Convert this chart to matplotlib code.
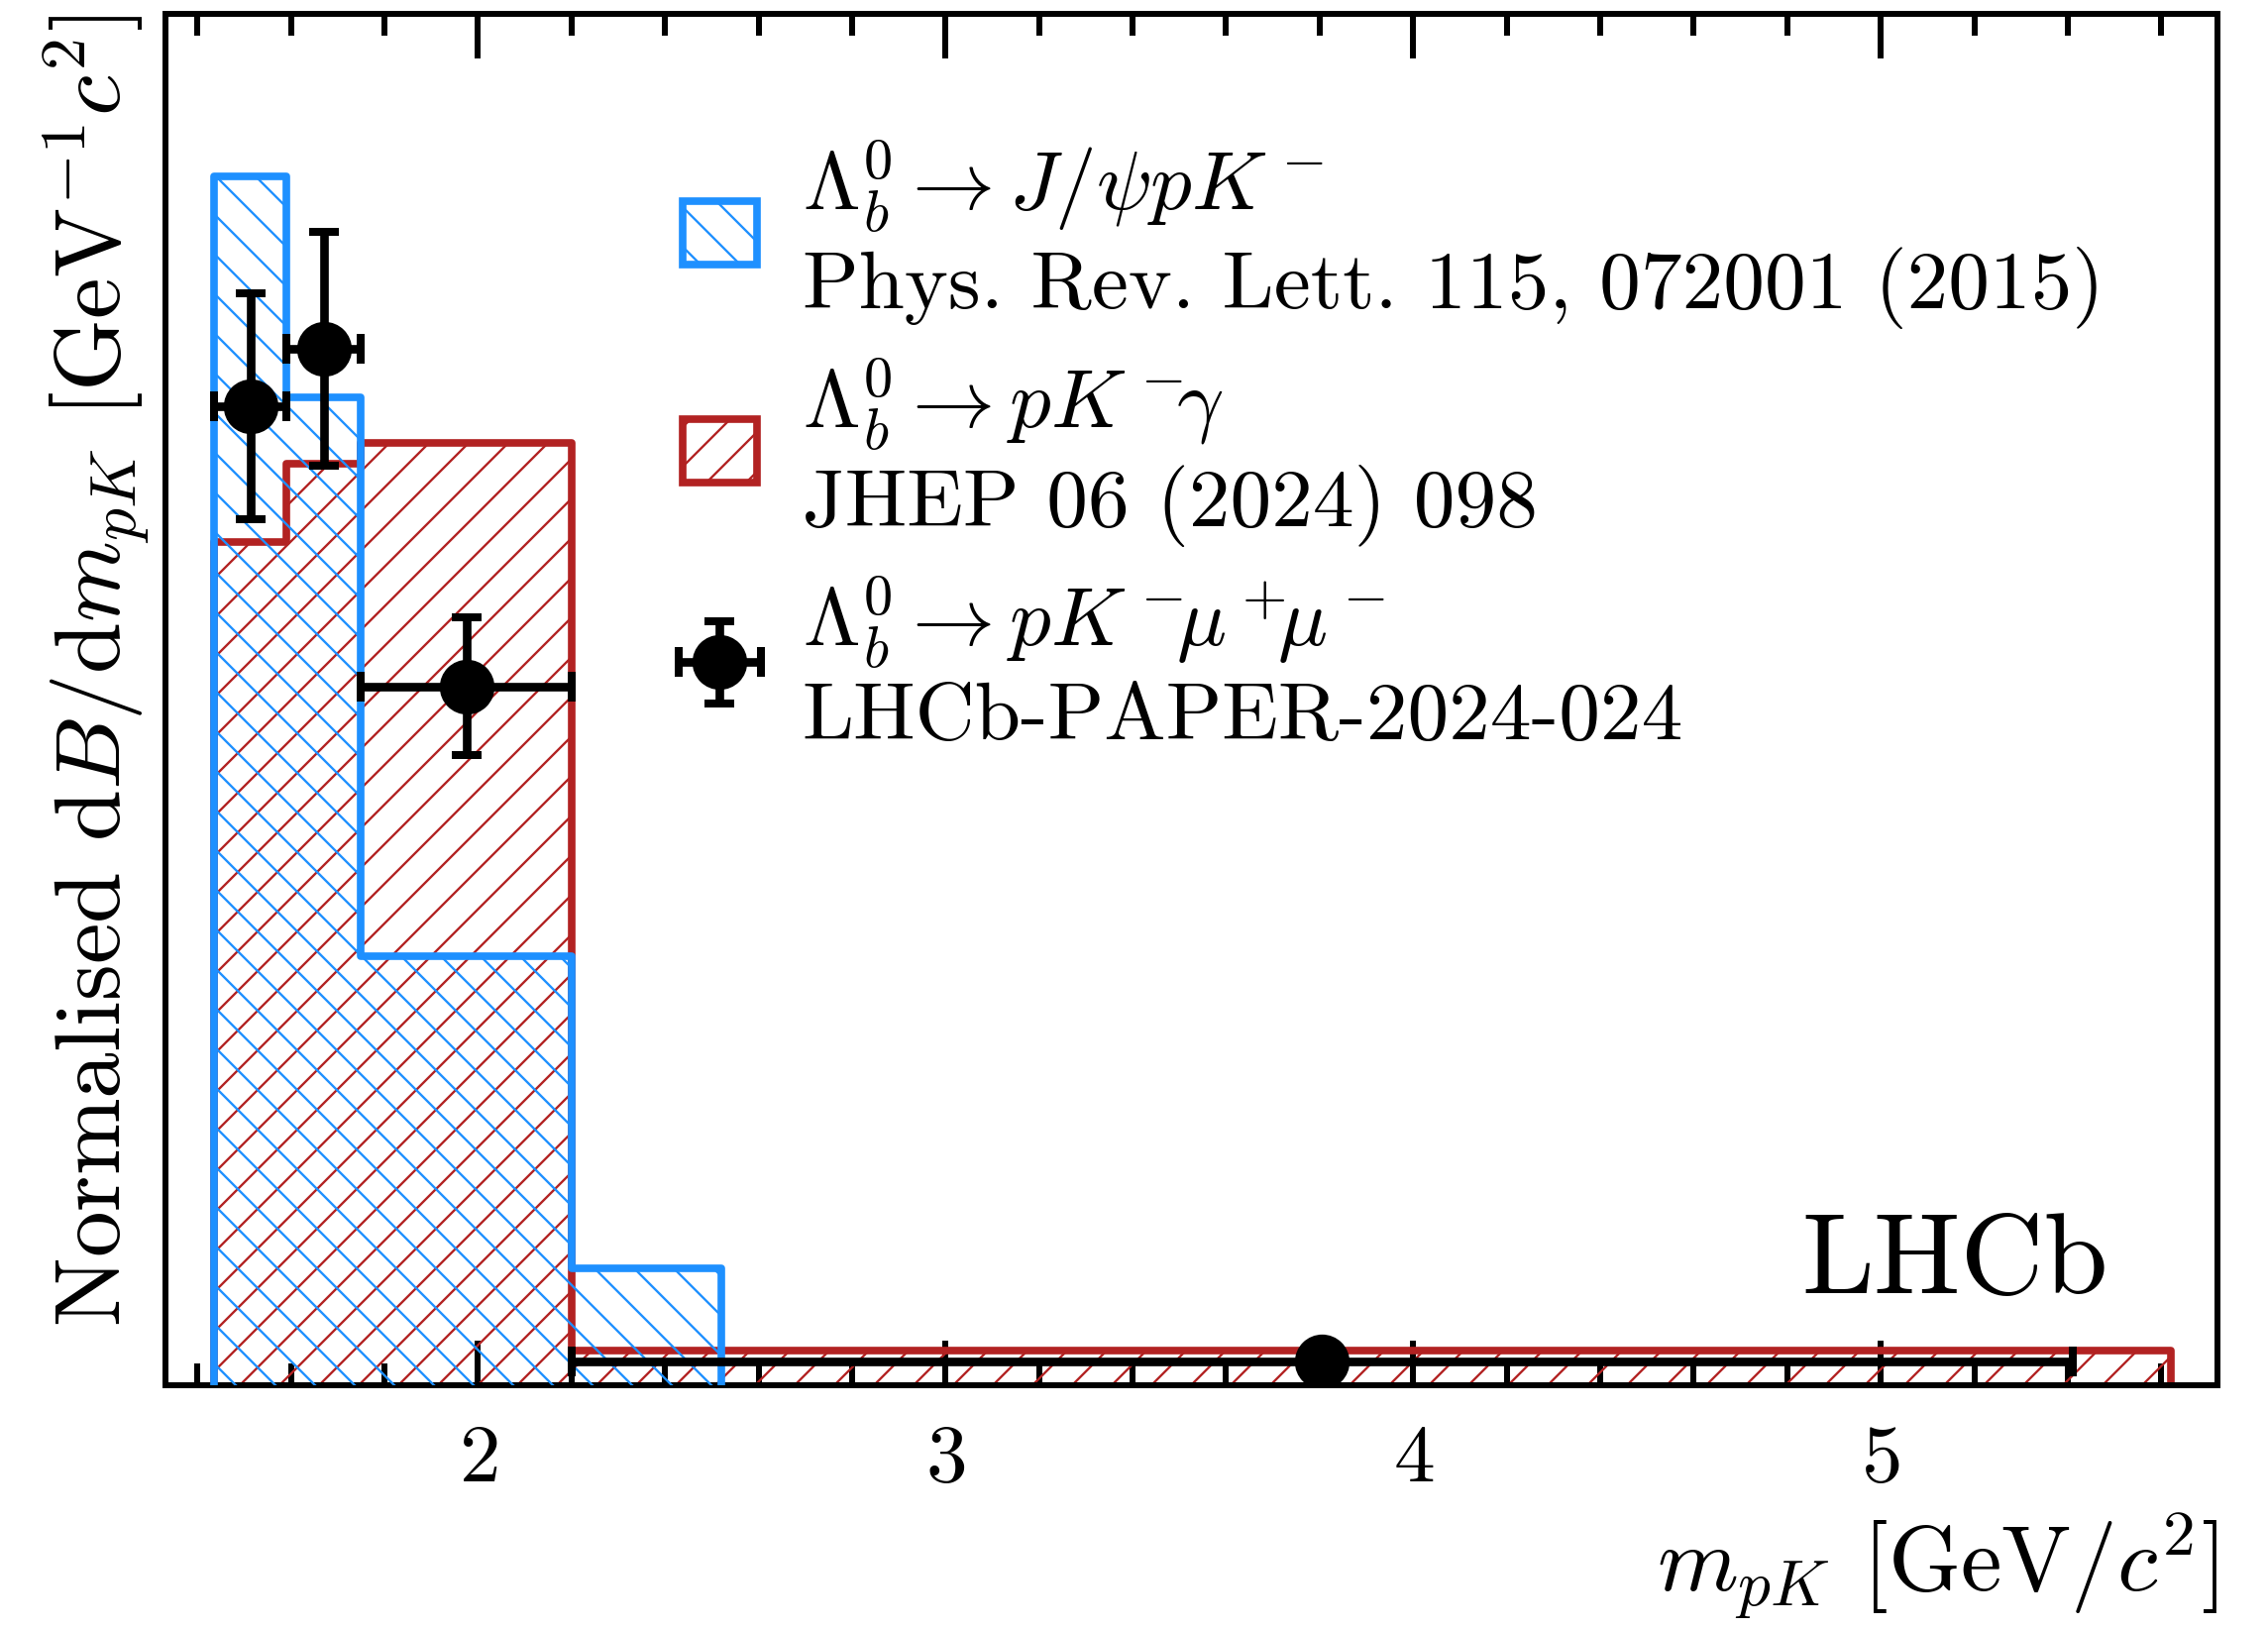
import matplotlib
matplotlib.use("Agg")
import matplotlib.pyplot as plt
from matplotlib.patches import Patch
from matplotlib.ticker import MultipleLocator

plt.rcParams.update({
    "font.family": "serif",
    "font.serif": ["cmr10"],
    "mathtext.fontset": "cm",
    "axes.unicode_minus": False,
    "axes.formatter.use_mathtext": True,
    "hatch.linewidth": 0.7,
})

# Lambda_b -> J/psi p K- (PRL 115, 072001)
edges_jpsi = [1.436, 1.59, 1.75, 2.20, 2.52]
dens_jpsi = [2.103, 1.719, 0.747, 0.203]

# Lambda_b -> p K- gamma (JHEP 06 (2024) 098)
edges_gamma = [1.436, 1.59, 1.75, 2.20, 5.62]
dens_gamma = [1.466, 1.603, 1.640, 0.060]

# Lambda_b -> p K- mu+ mu- measurement
bin_lo = [1.436, 1.59, 1.75, 2.20]
bin_hi = [1.59, 1.75, 2.20, 5.41]
dens_mumu = [1.703, 1.803, 1.216, 0.042]
err_mumu = [0.197, 0.204, 0.120, 0.010]

BLUE = "#1E90FF"
RED = "#B22222"

x_mid = [(a + b) / 2 for a, b in zip(bin_lo, bin_hi)]
x_half = [(b - a) / 2 for a, b in zip(bin_lo, bin_hi)]

fig = plt.figure(figsize=(2289 / 240, 1644 / 240), dpi=240)
ax = fig.add_axes([0.0730, 0.1496, 0.9047, 0.8417])

ax.stairs(dens_gamma, edges_gamma, baseline=0, fill=True, facecolor="none",
          edgecolor=RED, hatch="//", linewidth=2.3, joinstyle="round", zorder=2)
ax.stairs(dens_jpsi, edges_jpsi, baseline=0, fill=True, facecolor="none",
          edgecolor=BLUE, hatch="\\\\", linewidth=2.3, joinstyle="round", zorder=3)
eb = ax.errorbar(x_mid, dens_mumu, xerr=x_half, yerr=err_mumu, fmt="o",
                 color="k", ms=15.6, elinewidth=2.6, capsize=4.6,
                 capthick=2.4, zorder=4)

ax.set_xlim(1.332, 5.72)
ax.set_ylim(0, 2.385)
ax.set_yticks([])
ax.xaxis.set_major_locator(MultipleLocator(1))
ax.xaxis.set_minor_locator(MultipleLocator(0.2))
ax.tick_params(axis="x", which="both", direction="in", top=True,
               width=1.8, labelsize=25, pad=12)
ax.tick_params(axis="x", which="major", length=13.5)
ax.tick_params(axis="x", which="minor", length=6.6)
for sp in ax.spines.values():
    sp.set_linewidth(1.8)

ax.set_xlabel(r"$m_{pK}$ [GeV$/c^2$]", fontsize=28, loc="right")
ax.set_ylabel(r"Normalised d$B/$d$m_{pK}$ [GeV$^{-1}c^2$]", fontsize=28,
              loc="top")

ax.text(0.947, 0.067, "LHCb", transform=ax.transAxes, fontsize=35,
        ha="right", va="baseline")

h_jpsi = Patch(facecolor="none", edgecolor=BLUE, hatch="\\\\", linewidth=2.3)
h_gamma = Patch(facecolor="none", edgecolor=RED, hatch="//", linewidth=2.3)
labels = [
    "$\\Lambda_b^0 \\rightarrow J/\\psi pK^-$\nPhys. Rev. Lett. 115, 072001 (2015)",
    "$\\Lambda_b^0 \\rightarrow pK^-\\!\\!\\gamma$\nJHEP 06 (2024) 098",
    "$\\Lambda_b^0 \\rightarrow pK^-\\!\\!\\mu^+\\!\\!\\mu^-$\nLHCb-PAPER-2024-024",
]
ax.legend([h_jpsi, h_gamma, eb], labels, loc="upper left",
          bbox_to_anchor=(0.252, 0.91), frameon=False, fontsize=25,
          borderpad=0, borderaxespad=0, handlelength=0.9, handleheight=0.8,
          handletextpad=0.55, labelspacing=0.32)

fig.savefig("out.png", dpi=240)
